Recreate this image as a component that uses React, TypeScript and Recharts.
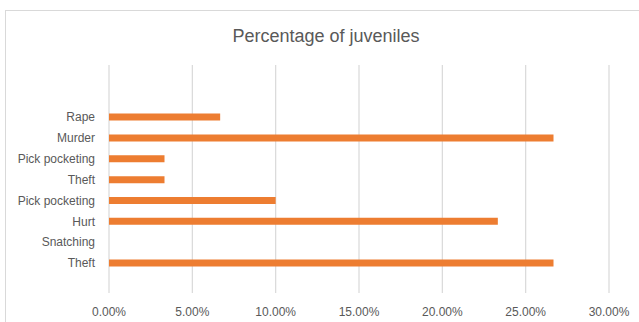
import React from "react";
import { BarChart, Bar, XAxis, YAxis, CartesianGrid } from "recharts";

const categories = ["Rape", "Murder", "Pick pocketing", "Theft", "Pick pocketing", "Hurt", "Snatching", "Theft"];
const percentages = [0.0667, 0.2667, 0.0333, 0.0333, 0.1, 0.2333, 0, 0.2667];
const xTicks = [0, 0.05, 0.1, 0.15, 0.2, 0.25, 0.3];
const title = "Percentage of juveniles";

const data = categories.map((c, i) => ({ name: c, value: percentages[i] }));

const font = "'Liberation Sans', Arial, sans-serif";

export default function App() {
  return (
    <div style={{ position: "fixed", left: 0, top: 0, width: 639, height: 322, overflow: "hidden", background: "#fff" }}>
      <div style={{ position: "absolute", left: 5, top: 10, width: 700, height: 400, border: "1px solid #d9d9d9", boxSizing: "border-box" }} />
      <div style={{ position: "absolute", left: 0, top: 24, width: 652, textAlign: "center", fontFamily: font, fontSize: 18, color: "#595959", lineHeight: "24px" }}>
        {title}
      </div>
      <div style={{ position: "absolute", left: 0, top: 0 }}>
        <BarChart
          width={639}
          height={322}
          data={data}
          layout="vertical"
          margin={{ top: 65, right: 30, bottom: 9, left: 9 }}
          barCategoryGap={0}
        >
          <CartesianGrid horizontal={false} vertical={true} stroke="#d9d9d9" strokeWidth={1.2} />
          <XAxis
            type="number"
            domain={[0, 0.3]}
            ticks={xTicks}
            axisLine={false}
            tickLine={false}
            tickSize={0}
            tickMargin={14}
            height={20}
            interval={0}
            tickFormatter={(v: number) => (v * 100).toFixed(2) + "%"}
            tick={{ fill: "#595959", fontSize: 12, fontFamily: font }}
          />
          <YAxis
            type="category"
            dataKey="name"
            width={100}
            axisLine={false}
            tickLine={false}
            tickSize={0}
            tickMargin={14}
            interval={0}
            padding={{ top: 41.6, bottom: 19.6 }}
            tick={{ fill: "#595959", fontSize: 12, fontFamily: font }}
          />
          <Bar dataKey="value" fill="#ED7D31" barSize={7} isAnimationActive={false} />
        </BarChart>
      </div>
    </div>
  );
}
